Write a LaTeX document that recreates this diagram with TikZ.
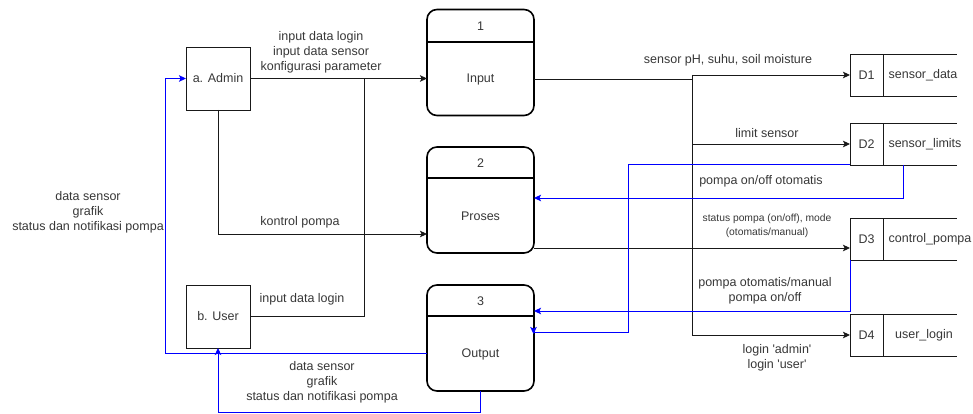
\documentclass[tikz,border=0pt]{standalone}
\usepackage{fontspec}
\setmainfont{Liberation Sans}[Ligatures={TeXOff,CommonOff}]
\usetikzlibrary{arrows.meta}
\definecolor{txt}{RGB}{55,55,55}
\definecolor{ln}{RGB}{25,25,25}
\definecolor{bl}{RGB}{0,0,255}
\begin{document}
\begin{tikzpicture}[x=1pt,y=-1pt,
  every node/.style={font=\fontsize{12.5}{15}\selectfont, text=txt, inner sep=0pt, outer sep=0pt},
  ent/.style={draw=ln, line width=0.9pt, minimum width=64pt, minimum height=63pt},
  proc/.style={draw=black, line width=1.6pt, rounded corners=10pt, minimum width=107pt, minimum height=106pt},
  hdr/.style={draw=black, line width=1.6pt},
  dsid/.style={draw=ln, line width=0.9pt, minimum width=33pt, minimum height=42pt},
  plain/.style={draw=ln, line width=0.9pt},
  flow/.style={draw=ln, line width=0.9pt, -{Stealth[length=7pt,width=6.5pt,inset=1.5pt]}},
  bflow/.style={draw=bl, line width=1pt, -{Stealth[length=7pt,width=6.5pt,inset=1.5pt]}},
  lbl/.style={align=center},
  smalllbl/.style={align=center, font=\fontsize{10.3}{14}\selectfont}
]
\useasboundingbox (0,0) rectangle (973,414);

% external entities
\node[ent] (admin) at (218,78.5) {a. Admin};
\node[ent] (user) at (218,316.5) {b. User};

% processes
\node[proc] (p1) at (480.5,62.5) {};
\node[proc] (p2) at (480.5,200) {};
\node[proc] (p3) at (480.5,338) {};
\coordinate (h1) at (0,42);
\coordinate (h2) at (0,178);
\coordinate (h3) at (0,316);
\draw[hdr] (p1.west |- h1) -- (p1.east |- h1);
\draw[hdr] (p2.west |- h2) -- (p2.east |- h2);
\draw[hdr] (p3.west |- h3) -- (p3.east |- h3);
\node (p1n) at (480.5,26) {1};
\node (p1t) at (480.5,79) {Input};
\node (p2n) at (480.5,163) {2};
\node (p2t) at (480.5,216) {Proses};
\node (p3n) at (480.5,301) {3};
\node (p3t) at (480.5,354) {Output};

% data stores
\node[dsid] (d1) at (866.5,75) {D1};
\node[dsid] (d2) at (866.5,144) {D2};
\node[dsid] (d3) at (866.5,239) {D3};
\node[dsid] (d4) at (866.5,335) {D4};
\foreach \d in {d1,d2,d3,d4}{
  \draw[plain] (\d.north east) -- ++(74,0);
  \draw[plain] (\d.south east) -- ++(74,0);
}
\node (d1n) at (923,75) {sensor\_data};
\node (d2n) at (925,144) {sensor\_limits};
\node (d3n) at (930,239) {control\_pompa};
\node (d4n) at (924,335) {user\_login};

% black flows
\draw[flow] (admin.east) -- (admin.east -| p1.west);
\coordinate (j2) at (364,316.5);
\draw[plain] (user.east) -- (j2) -- (j2 |- admin.east);
\coordinate (j3) at (218,234);
\draw[flow] (admin.south) -- (j3) -- (j3 -| p2.west);
\coordinate (j1) at (692,79);
\coordinate (j1b) at (692,75);
\coordinate (j4) at (692,335);
\draw[plain] (p1.east |- j1) -- (j1) -- (j1b);
\draw[flow] (j1b) -- (d1.west);
\draw[flow] (j1b) -- (j4) -- (d4.west);
\draw[flow] (j4 |- d2.west) -- (d2.west);
\coordinate (y3) at (0,248);
\draw[flow] (p2.east |- y3) -- (d3.west |- y3);

% blue flows
\coordinate (c1) at (165,353);
\draw[bflow] (p3.west |- c1) -- (c1) -- (c1 |- admin.west) -- (admin.west);
\coordinate (c2) at (480.5,412);
\draw[bflow] (p3.south) -- (c2) -- (c2 -| user.south) -- (user.south);
\coordinate (c3) at (903,198);
\draw[bflow] (c3 |- d2.south) -- (c3) -- (c3 -| p2.east);
\coordinate (c4) at (628,165);
\coordinate (c5) at (628,332);
\coordinate (c5e) at (533.5,332);
\coordinate (c5t) at (533.5,334);
\draw[bflow] (d2.south west) -- (c4) -- (c5) -- (c5e) -- (c5t);
\coordinate (c6) at (850,311);
\draw[bflow] (d3.south west) -- (c6) -- (c6 -| p3.east);

% labels
\node[lbl] (l1) at (321,52) {input data login\\input data sensor\\konfigurasi parameter};
\node[lbl] (l2) at (300,222) {kontrol pompa};
\node[lbl] (l3) at (302,299) {input data login};
\node[lbl] (l4) at (88,212) {data sensor\\grafik\\status dan notifikasi pompa};
\node[lbl] (l5) at (322,382) {data sensor\\grafik\\status dan notifikasi pompa};
\node[lbl] (l6) at (728,60) {sensor pH, suhu, soil moisture};
\node[lbl] (l7) at (767,133) {limit sensor};
\node[lbl] (l8) at (761,181) {pompa on/off otomatis};
\node[smalllbl] (l9) at (767,226) {status pompa (on/off), mode\\(otomatis/manual)};
\node[lbl] (l10) at (765,290.5) {pompa otomatis/manual\\pompa on/off};
\node[lbl] (l11) at (777,357.5) {login 'admin'\\login 'user'};
\end{tikzpicture}
\end{document}
